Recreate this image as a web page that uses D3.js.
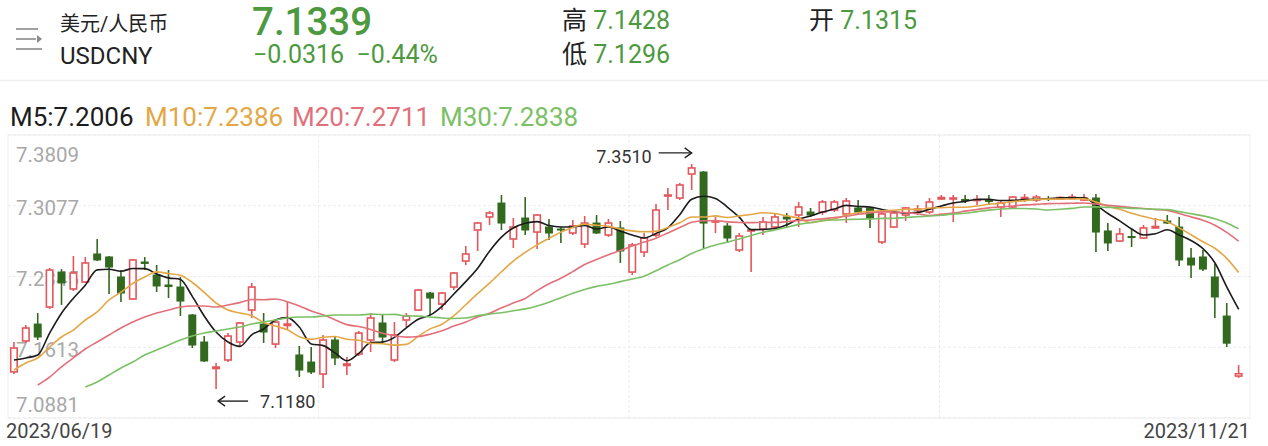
<!DOCTYPE html>
<html><head><meta charset="utf-8">
<script src="https://cdn.jsdelivr.net/npm/d3@7"></script>
<style>
body{margin:0;background:#fff;overflow:hidden;}
svg{display:block;font-family:Roboto,"Noto Sans CJK SC",sans-serif;}
</style></head><body><svg id="c" width="1268" height="446"></svg>
<script>
// ---- data ----
const startDate = "2023/06/19";
const endDate = "2023/11/21";
const yTicks = [7.3809, 7.3077, 7.2345, 7.1613, 7.0881];
const quoteName = "美元/人民币";
const quoteCode = "USDCNY";
const quoteLast = 7.1339;
const quoteChange = -0.0316;
const quotePct = -0.44;
const quoteHigh = 7.1428;
const quoteLow = 7.1296;
const quoteOpen = 7.1315;
const maNames = ["M5", "M10", "M20", "M30"];

const open = [7.1358,7.1678,7.1853,7.2029,7.2391,7.2216,7.2288,7.2578,7.2547,7.2340,7.2112,7.2495,7.2360,7.2257,7.2236,7.1947,7.1667,7.1393,7.1481,7.1667,7.1998,7.1853,7.1646,7.1838,7.1533,7.1460,7.1336,7.1688,7.1424,7.1543,7.1688,7.1864,7.1481,7.1895,7.1998,7.2174,7.2060,7.2236,7.2505,7.2826,7.2961,7.3105,7.2733,7.2950,7.2805,7.2857,7.2836,7.2795,7.2681,7.2898,7.2774,7.2847,7.2391,7.2598,7.2774,7.3178,7.3157,7.3405,7.3426,7.2909,7.2867,7.2619,7.2816,7.2836,7.2857,7.2961,7.2981,7.3012,7.3012,7.3033,7.2992,7.3054,7.3054,7.2702,7.2857,7.2981,7.3033,7.3012,7.3147,7.3147,7.3142,7.3131,7.3131,7.3064,7.3064,7.3152,7.3136,7.3152,7.3147,7.3152,7.3136,7.3157,7.2816,7.2712,7.2759,7.2743,7.2847,7.2919,7.2857,7.2536,7.2547,7.2340,7.1936,7.1315];
const high = [7.1667,7.1843,7.1967,7.2433,7.2422,7.2557,7.2547,7.2733,7.2557,7.2412,7.2526,7.2547,7.2464,7.2412,7.2340,7.1957,7.1729,7.1450,7.1760,7.1874,7.2278,7.1967,7.1895,7.2081,7.1626,7.1615,7.1740,7.1719,7.1512,7.1781,7.1967,7.1947,7.1874,7.1967,7.2216,7.2185,7.2185,7.2391,7.2661,7.2909,7.3023,7.3188,7.2950,7.3167,7.2992,7.2940,7.2857,7.2929,7.2971,7.2981,7.2940,7.2919,7.2692,7.2795,7.3095,7.3261,7.3312,7.3510,7.3436,7.2961,7.2898,7.2795,7.2836,7.2961,7.3002,7.3002,7.3116,7.3054,7.3136,7.3136,7.3157,7.3136,7.3064,7.3012,7.3012,7.3064,7.3085,7.3157,7.3188,7.3188,7.3188,7.3188,7.3188,7.3136,7.3178,7.3198,7.3188,7.3178,7.3173,7.3198,7.3198,7.3198,7.2898,7.2847,7.2836,7.2878,7.2950,7.2981,7.2961,7.2640,7.2619,7.2474,7.2071,7.1428];
const low = [7.1337,7.1657,7.1688,7.2009,7.2050,7.2195,7.2278,7.2505,7.2164,7.2081,7.2102,7.2412,7.2185,7.2122,7.1936,7.1605,7.1460,7.1180,7.1460,7.1615,7.1916,7.1657,7.1605,7.1802,7.1305,7.1336,7.1191,7.1429,7.1326,7.1522,7.1564,7.1657,7.1460,7.1822,7.1988,7.1947,7.1998,7.2205,7.2464,7.2609,7.2878,7.2826,7.2640,7.2774,7.2630,7.2723,7.2692,7.2774,7.2640,7.2785,7.2754,7.2485,7.2360,7.2547,7.2754,7.3033,7.3136,7.3240,7.2640,7.2795,7.2702,7.2598,7.2391,7.2774,7.2847,7.2857,7.2857,7.2961,7.2981,7.3012,7.2898,7.2981,7.2847,7.2681,7.2847,7.2919,7.2981,7.2992,7.3136,7.2909,7.3105,7.3085,7.3085,7.2961,7.3054,7.3116,7.3116,7.3126,7.3136,7.3147,7.3126,7.2598,7.2609,7.2702,7.2650,7.2733,7.2847,7.2888,7.2454,7.2329,7.2402,7.1916,7.1615,7.1296];
const close = [7.1605,7.1812,7.1719,7.2412,7.2278,7.2381,7.2485,7.2516,7.2443,7.2174,7.2516,7.2480,7.2247,7.2241,7.2091,7.1636,7.1471,7.1408,7.1729,7.1864,7.2236,7.1771,7.1874,7.1853,7.1377,7.1357,7.1688,7.1502,7.1440,7.1760,7.1916,7.1719,7.1740,7.1936,7.2205,7.2122,7.2174,7.2381,7.2578,7.2898,7.3002,7.2898,7.2857,7.2826,7.2981,7.2795,7.2826,7.2867,7.2898,7.2795,7.2898,7.2609,7.2671,7.2743,7.3033,7.3188,7.3292,7.3468,7.2898,7.2919,7.2743,7.2764,7.2826,7.2909,7.2961,7.2940,7.3064,7.2981,7.3116,7.3116,7.3126,7.3012,7.2950,7.2992,7.3002,7.3054,7.3043,7.3116,7.3162,7.3157,7.3131,7.3142,7.3121,7.3105,7.3167,7.3162,7.3167,7.3142,7.3162,7.3167,7.3157,7.2805,7.2692,7.2785,7.2748,7.2847,7.2862,7.2898,7.2516,7.2464,7.2422,7.2133,7.1655,7.1339];

const ma5 = [7.1481,7.1502,7.1533,7.1760,7.1965,7.2120,7.2255,7.2414,7.2420,7.2400,7.2427,7.2426,7.2372,7.2331,7.2315,7.2139,7.1937,7.1770,7.1667,7.1622,7.1742,7.1802,7.1895,7.1920,7.1822,7.1647,7.1630,7.1555,7.1473,7.1549,7.1661,7.1667,7.1715,7.1814,7.1903,7.1945,7.2036,7.2164,7.2292,7.2431,7.2607,7.2752,7.2847,7.2896,7.2913,7.2872,7.2857,7.2859,7.2874,7.2836,7.2857,7.2814,7.2774,7.2743,7.2791,7.2849,7.2985,7.3145,7.3176,7.3153,7.3064,7.2959,7.2830,7.2832,7.2841,7.2880,7.2940,7.2971,7.3012,7.3043,7.3081,7.3070,7.3064,7.3039,7.3016,7.3002,7.3008,7.3041,7.3075,7.3106,7.3122,7.3142,7.3143,7.3131,7.3133,7.3140,7.3145,7.3149,7.3160,7.3160,7.3159,7.3087,7.2997,7.2921,7.2837,7.2775,7.2787,7.2828,7.2774,7.2717,7.2633,7.2487,7.2238,7.2006];
const ma10 = [7.1378,7.1450,7.1502,7.1615,7.1719,7.1791,7.1895,7.1978,7.2102,7.2183,7.2274,7.2340,7.2393,7.2376,7.2357,7.2283,7.2181,7.2071,7.1999,7.1968,7.1940,7.1869,7.1832,7.1793,7.1722,7.1694,7.1716,7.1725,7.1696,7.1686,7.1654,7.1649,7.1635,7.1643,7.1726,7.1803,7.1851,7.1939,7.2053,7.2167,7.2276,7.2394,7.2505,7.2594,7.2672,7.2739,7.2804,7.2853,7.2885,7.2875,7.2864,7.2835,7.2817,7.2808,7.2814,7.2853,7.2900,7.2960,7.2960,7.2972,7.2956,7.2972,7.2987,7.3004,7.2997,7.2972,7.2949,7.2901,7.2922,7.2942,7.2980,7.3005,7.3018,7.3026,7.3030,7.3041,7.3039,7.3053,7.3057,7.3061,7.3062,7.3074,7.3092,7.3103,7.3120,7.3130,7.3143,7.3146,7.3146,7.3147,7.3149,7.3116,7.3072,7.3040,7.2999,7.2967,7.2937,7.2912,7.2848,7.2777,7.2704,7.2637,7.2533,7.2386];
const ma20 = [null,null,7.1222,7.1305,7.1409,7.1502,7.1595,7.1667,7.1740,7.1812,7.1874,7.1926,7.1967,7.1998,7.2029,7.2040,7.2040,7.2029,7.2050,7.2075,7.2107,7.2104,7.2112,7.2084,7.2040,7.1988,7.1949,7.1898,7.1847,7.1827,7.1797,7.1758,7.1733,7.1718,7.1724,7.1748,7.1783,7.1832,7.1874,7.1926,7.1964,7.2021,7.2070,7.2118,7.2199,7.2270,7.2327,7.2396,7.2469,7.2521,7.2569,7.2614,7.2661,7.2701,7.2742,7.2796,7.2852,7.2906,7.2922,7.2923,7.2910,7.2904,7.2902,7.2906,7.2905,7.2912,7.2924,7.2930,7.2941,7.2956,7.2968,7.2989,7.3002,7.3014,7.3013,7.3006,7.2994,7.2976,7.2990,7.3001,7.3021,7.3039,7.3055,7.3064,7.3074,7.3086,7.3091,7.3099,7.3101,7.3103,7.3105,7.3095,7.3082,7.3071,7.3059,7.3049,7.3039,7.3029,7.2997,7.2962,7.2926,7.2876,7.2802,7.2711];
const ma30 = [null,null,null,null,null,null,7.1202,7.1253,7.1326,7.1398,7.1460,7.1533,7.1584,7.1636,7.1688,7.1729,7.1760,7.1781,7.1802,7.1822,7.1853,7.1874,7.1895,7.1916,7.1926,7.1926,7.1936,7.1947,7.1947,7.1946,7.1956,7.1952,7.1953,7.1937,7.1935,7.1926,7.1916,7.1911,7.1916,7.1940,7.1956,7.1970,7.1990,7.2010,7.2040,7.2078,7.2124,7.2172,7.2211,7.2243,7.2264,7.2292,7.2319,7.2348,7.2404,7.2465,7.2519,7.2584,7.2633,7.2671,7.2699,7.2734,7.2769,7.2802,7.2827,7.2854,7.2884,7.2904,7.2922,7.2930,7.2934,7.2938,7.2940,7.2946,7.2947,7.2955,7.2963,7.2971,7.2979,7.2992,7.2999,7.3016,7.3032,7.3044,7.3049,7.3048,7.3043,7.3033,7.3041,7.3050,7.3064,7.3065,7.3060,7.3056,7.3050,7.3046,7.3039,7.3037,7.3016,7.2995,7.2972,7.2942,7.2899,7.2838];

// ---- styles ----
const RED = "#e2575c", GREEN = "#33691f", TXTGREEN = "#4c9940";
const maColors = ["#1c1c1c", "#e3a745", "#e2707a", "#7cc066"];
const maSeries = [ma5, ma10, ma20, ma30];

const svg = d3.select("#c");
const L = 8, R = 1250, T = 135, B = 418;
const n = close.length;
const idx = d3.range(n);
const x = d3.scaleBand().domain(idx).range([L, L + n * 11.89]).paddingInner(0.33).paddingOuter(0.165);
const cx = i => x(i) + x.bandwidth() / 2;
const y = d3.scaleLinear().domain([yTicks[4], yTicks[0]]).range([B, T]);

// header
const hdr = svg.append("g");
const ic = hdr.append("g").attr("stroke", "#8a8a8a").attr("stroke-width", 1.6).attr("fill", "none");
ic.append("line").attr("x1", 16).attr("x2", 38).attr("y1", 29).attr("y2", 29);
ic.append("line").attr("x1", 16).attr("x2", 36).attr("y1", 39).attr("y2", 39);
ic.append("line").attr("x1", 16).attr("x2", 42).attr("y1", 49).attr("y2", 49);
hdr.append("path").attr("d", "M37,35 L42,39 L37,43 Z").attr("fill", "#8a8a8a");

hdr.append("text").attr("x", 60).attr("y", 31).attr("font-size", 20).attr("fill", "#222").text(quoteName);
hdr.append("text").attr("x", 60).attr("y", 64).attr("font-size", 24).attr("fill", "#222").text(quoteCode);
hdr.append("text").attr("x", 252).attr("y", 35).attr("font-size", 38.5).attr("font-weight", 500).attr("fill", TXTGREEN).text(quoteLast.toFixed(4));
hdr.append("text").attr("x", 253).attr("y", 63).attr("font-size", 25).attr("fill", TXTGREEN)
  .attr("xml:space", "preserve")
  .text(quoteChange.toFixed(4).replace("-", "\u2212") + "  " + quotePct.toFixed(2).replace("-", "\u2212") + "%");
function hl(xp, yp, lab, v) {
  const t = hdr.append("text").attr("x", xp).attr("y", yp).attr("font-size", 25);
  t.append("tspan").attr("fill", "#222").text(lab + " ");
  t.append("tspan").attr("fill", TXTGREEN).text(v.toFixed(4));
}
hl(562, 29, "高", quoteHigh);
hl(562, 63, "低", quoteLow);
hl(809, 29, "开", quoteOpen);
svg.append("line").attr("x1", 0).attr("x2", 1268).attr("y1", 80.5).attr("y2", 80.5).attr("stroke", "#f0f0f0").attr("stroke-width", 1.5);

// MA legend
const lgX = [10, 145, 292, 440];
maNames.forEach((nm, k) => {
  const s = maSeries[k];
  svg.append("text").attr("x", lgX[k]).attr("y", 126).attr("font-size", 26).attr("fill", maColors[k])
    .text(nm + ":" + s[s.length - 1].toFixed(4));
});

// grid
const grid = svg.append("g");
yTicks.forEach(v => {
  grid.append("line").attr("x1", L).attr("x2", R).attr("y1", y(v)).attr("y2", y(v))
    .attr("stroke", "#ececec").attr("stroke-width", 1).attr("stroke-dasharray", "3,2");
});
[1, 2, 3].forEach(k => {
  const gx = L + (R - L) * k / 4;
  grid.append("line").attr("x1", gx).attr("x2", gx).attr("y1", T).attr("y2", B)
    .attr("stroke", "#ececec").attr("stroke-width", 1).attr("stroke-dasharray", "3,2");
});
svg.append("rect").attr("x", L).attr("y", T).attr("width", R - L).attr("height", B - T)
  .attr("fill", "none").attr("stroke", "#ededed").attr("stroke-width", 1);

// y labels
const labCenters = yTicks.map(v => Math.min(Math.max(y(v) + 2, T + 20), B - 13));
yTicks.forEach((v, k) => {
  svg.append("text").attr("x", 16).attr("y", labCenters[k]).attr("dy", "0.36em")
    .attr("font-size", 20.5).attr("fill", "#a8a8a8").text(v.toFixed(4));
});

// candles
const cg = svg.append("g");
idx.forEach(i => {
  const up = close[i] >= open[i];
  const col = up ? RED : GREEN;
  const xc = cx(i);
  cg.append("line").attr("x1", xc).attr("x2", xc).attr("y1", y(high[i])).attr("y2", y(low[i]))
    .attr("stroke", col).attr("stroke-width", 1.6);
  const top = y(Math.max(open[i], close[i])), bot = y(Math.min(open[i], close[i]));
  const h = Math.max(bot - top, 1);
  if (up) {
    cg.append("rect").attr("x", x(i) + 0.75).attr("y", top).attr("width", x.bandwidth() - 1.5).attr("height", h)
      .attr("fill", "#fff").attr("stroke", col).attr("stroke-width", 1.6);
  } else {
    cg.append("rect").attr("x", x(i)).attr("y", top - 0.5).attr("width", x.bandwidth()).attr("height", h + 1)
      .attr("fill", col);
  }
});

// MA lines
maSeries.forEach((s, k) => {
  const line = d3.line().defined(d => d != null).x((d, i) => cx(i)).y(d => y(d)).curve(d3.curveMonotoneX);
  svg.append("path").datum(s).attr("d", line).attr("fill", "none")
    .attr("stroke", maColors[k]).attr("stroke-width", 1.6);
});

// max / min annotations
const iMax = d3.maxIndex(high), iMin = d3.minIndex(low);
const ann = svg.append("g").attr("font-size", 18).attr("fill", "#333");
{
  const ax = cx(iMax), ay = y(high[iMax]) - 11;
  ann.append("line").attr("x1", ax - 33).attr("x2", ax).attr("y1", ay).attr("y2", ay).attr("stroke", "#222").attr("stroke-width", 1.4);
  ann.append("path").attr("d", `M${ax - 7},${ay - 5} L${ax},${ay} L${ax - 7},${ay + 5}`).attr("fill", "none").attr("stroke", "#222").attr("stroke-width", 1.4);
  ann.append("text").attr("x", ax - 40).attr("y", ay + 4).attr("dy", "0.36em").attr("text-anchor", "end").text(high[iMax].toFixed(4));
}
{
  const ax = cx(iMin) + 2, ay = y(low[iMin]) + 12;
  ann.append("line").attr("x1", ax).attr("x2", ax + 30).attr("y1", ay).attr("y2", ay).attr("stroke", "#222").attr("stroke-width", 1.4);
  ann.append("path").attr("d", `M${ax + 7},${ay - 5} L${ax},${ay} L${ax + 7},${ay + 5}`).attr("fill", "none").attr("stroke", "#222").attr("stroke-width", 1.4);
  ann.append("text").attr("x", ax + 42).attr("y", ay).attr("dy", "0.36em").text(low[iMin].toFixed(4));
}

// date labels
svg.append("text").attr("x", 6).attr("y", 438).attr("font-size", 20).attr("fill", "#444").text(startDate);
svg.append("text").attr("x", R).attr("y", 438).attr("text-anchor", "end").attr("font-size", 20).attr("fill", "#444").text(endDate);
</script></body></html>
